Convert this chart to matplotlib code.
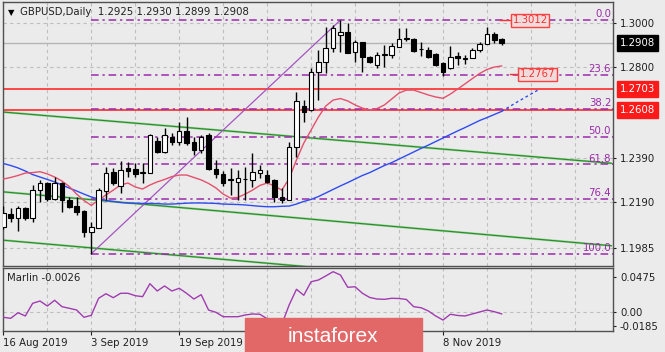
import numpy as np
import pandas as pd
import matplotlib
matplotlib.use("Agg")
import matplotlib.pyplot as plt
import matplotlib.transforms as mtransforms
from matplotlib.patches import Rectangle

plt.rcParams['font.family'] = 'DejaVu Sans'
plt.rcParams['font.size'] = 7.3

# daily bars GBPUSD, 16 Aug 2019 .. 20 Nov 2019
dates = pd.bdate_range('2019-08-16', '2019-11-20')

opens = [1.2080, 1.2137, 1.2118, 1.2166, 1.2118, 1.2245, 1.2278, 1.2203, 1.2276, 1.2200,
         1.2173, 1.2152, 1.2055, 1.2073, 1.2242, 1.2328, 1.2264, 1.2343, 1.2340, 1.2323,
         1.2323, 1.2468, 1.2418, 1.2486, 1.2463, 1.2513, 1.2463, 1.2426, 1.2494, 1.2340,
         1.2318, 1.2293, 1.2283, 1.2296, 1.2290, 1.2321, 1.2313, 1.2291, 1.2215, 1.2200,
         1.2440, 1.2624, 1.2606, 1.2776, 1.2821, 1.2884, 1.2945, 1.2957, 1.2869, 1.2912,
         1.2844, 1.2809, 1.2855, 1.2854, 1.2892, 1.2925, 1.2925, 1.2882, 1.2877, 1.2857,
         1.2820, 1.2794, 1.2850, 1.2838, 1.2842, 1.2877, 1.2903, 1.2948, 1.2925]
highs = [1.2173, 1.2164, 1.2173, 1.2170, 1.2268, 1.2290, 1.2283, 1.2305, 1.2283, 1.2215,
         1.2215, 1.2155, 1.2103, 1.2253, 1.2350, 1.2343, 1.2376, 1.2373, 1.2369, 1.2365,
         1.2497, 1.2486, 1.2524, 1.2501, 1.2553, 1.2576, 1.2486, 1.2494, 1.2503, 1.2381,
         1.2333, 1.2343, 1.2336, 1.2350, 1.2411, 1.2358, 1.2336, 1.2294, 1.2253, 1.2463,
         1.2689, 1.2651, 1.2794, 1.2877, 1.2982, 1.2990, 1.3012, 1.2997, 1.2922, 1.2912,
         1.2850, 1.2869, 1.2899, 1.2907, 1.2975, 1.2975, 1.2930, 1.2914, 1.2889, 1.2862,
         1.2824, 1.2895, 1.2869, 1.2854, 1.2884, 1.2914, 1.2982, 1.2958, 1.2930]
lows = [1.2069, 1.2103, 1.2062, 1.2110, 1.2103, 1.2193, 1.2196, 1.2200, 1.2147, 1.2163,
        1.2133, 1.2032, 1.1958, 1.2073, 1.2200, 1.2268, 1.2231, 1.2303, 1.2303, 1.2278,
        1.2320, 1.2411, 1.2411, 1.2448, 1.2448, 1.2448, 1.2403, 1.2411, 1.2336, 1.2298,
        1.2264, 1.2223, 1.2200, 1.2200, 1.2260, 1.2298, 1.2276, 1.2193, 1.2185, 1.2200,
        1.2396, 1.2553, 1.2602, 1.2651, 1.2772, 1.2869, 1.2869, 1.2862, 1.2824, 1.2779,
        1.2817, 1.2794, 1.2802, 1.2839, 1.2889, 1.2919, 1.2869, 1.2850, 1.2839, 1.2805,
        1.2760, 1.2790, 1.2809, 1.2814, 1.2839, 1.2869, 1.2903, 1.2907, 1.2899]
closes = [1.2140, 1.2118, 1.2163, 1.2118, 1.2245, 1.2278, 1.2203, 1.2278, 1.2200, 1.2167,
          1.2148, 1.2057, 1.2077, 1.2245, 1.2323, 1.2276, 1.2336, 1.2333, 1.2318, 1.2327,
          1.2494, 1.2418, 1.2494, 1.2463, 1.2513, 1.2456, 1.2426, 1.2486, 1.2340, 1.2318,
          1.2276, 1.2289, 1.2298, 1.2293, 1.2328, 1.2336, 1.2283, 1.2213, 1.2200, 1.2440,
          1.2648, 1.2599, 1.2779, 1.2824, 1.2884, 1.2975, 1.2957, 1.2862, 1.2912, 1.2844,
          1.2821, 1.2854, 1.2859, 1.2895, 1.2925, 1.2932, 1.2874, 1.2880, 1.2847, 1.2809,
          1.2776, 1.2847, 1.2839, 1.2840, 1.2877, 1.2903, 1.2948, 1.2922, 1.2908]

ma_fast = [1.2295, 1.2302, 1.2311, 1.2322, 1.2324, 1.2328, 1.2318, 1.2304, 1.2286, 1.2261,
           1.2227, 1.2198, 1.2176, 1.2200, 1.2223, 1.2245, 1.2268, 1.2277, 1.2259, 1.2250,
           1.2268, 1.2282, 1.2293, 1.2306, 1.2313, 1.2313, 1.2302, 1.2291, 1.2275, 1.2255,
           1.2227, 1.2209, 1.2212, 1.2227, 1.2245, 1.2266, 1.2277, 1.2264, 1.2245, 1.2297,
           1.2381, 1.2457, 1.2516, 1.2575, 1.2624, 1.2651, 1.2658, 1.2647, 1.2629, 1.2615,
           1.2606, 1.2613, 1.2629, 1.2656, 1.2683, 1.2696, 1.2696, 1.2685, 1.2674, 1.2665,
           1.2659, 1.2678, 1.2701, 1.2724, 1.2748, 1.2771, 1.2789, 1.2800, 1.2805]
ma_slow = [1.2365, 1.2356, 1.2345, 1.2331, 1.2315, 1.2304, 1.2293, 1.2282, 1.2268, 1.2254,
           1.2241, 1.2227, 1.2214, 1.2205, 1.2198, 1.2194, 1.2189, 1.2187, 1.2186, 1.2185,
           1.2185, 1.2184, 1.2182, 1.2182, 1.2184, 1.2186, 1.2187, 1.2187, 1.2186, 1.2185,
           1.2182, 1.2181, 1.2180, 1.2178, 1.2175, 1.2172, 1.2170, 1.2170, 1.2172, 1.2173,
           1.2182, 1.2194, 1.2203, 1.2216, 1.2232, 1.2248, 1.2264, 1.2279, 1.2295, 1.2311,
           1.2324, 1.2340, 1.2356, 1.2369, 1.2385, 1.2401, 1.2417, 1.2433, 1.2448, 1.2464,
           1.2480, 1.2496, 1.2512, 1.2527, 1.2543, 1.2559, 1.2572, 1.2586, 1.2600]
ma_slow_ext = [1.2600, 1.2620, 1.2640, 1.2659, 1.2678, 1.2697]

marlin = [-0.0072, -0.0086, -0.0010, -0.0054, 0.0118, 0.0149, 0.0081, 0.0159, 0.0072, 0.0050,
          0.0027, -0.0072, -0.0045, 0.0186, 0.0248, 0.0194, 0.0254, 0.0254, 0.0221, 0.0208,
          0.0384, 0.0285, 0.0353, 0.0285, 0.0322, 0.0254, 0.0176, 0.0235, 0.0027, -0.0004,
          -0.0064, -0.0064, -0.0064, -0.0041, -0.0027, -0.0031, -0.0091, -0.0150, -0.0170, 0.0095,
          0.0308, 0.0227, 0.0411, 0.0434, 0.0489, 0.0547, 0.0502, 0.0335, 0.0343, 0.0254,
          0.0197, 0.0176, 0.0172, 0.0186, 0.0183, 0.0170, 0.0072, 0.0058, 0.0014, -0.0054,
          -0.0109, -0.0031, -0.0047, -0.0054, -0.0027, 0.0000, 0.0027, 0.0004, -0.0026]

# trend channel lines: (bar index, price) end points
channel_x = [0, 83]
channel_upper = [1.2597, 1.2366]
channel_mid = [1.2237, 1.1994]
channel_low = [1.2019, 1.1780]

# fibonacci from 3 Sep low to 21 Oct high
fib_start, fib_end = 12, 46
fib_low, fib_high = 1.1958, 1.3012
fib_ratios = [0.0, 23.6, 38.2, 50.0, 61.8, 76.4, 100.0]

levels_red = [1.2703, 1.2608]
price_now = 1.2908
price_tags = [1.3012, 1.2767]

yticks_main = [1.3000, 1.2800, 1.2390, 1.2190, 1.1985]
yticks_ind = [0.0475, 0.0, -0.0185]
ytick_ind_labels = ['0.0475', '0.00', '-0.0185']

# date labels under the watermark are not visible in the source
date_label_idx = [0, 12, 24, 60]

W, H = 665, 352
bg = '#EBEBEB'
fig = plt.figure(figsize=(W / 100, H / 100), dpi=100, facecolor=bg)
ax = fig.add_axes([3 / W, 1 - 266 / H, 610 / W, 264 / H], facecolor=bg)
ax2 = fig.add_axes([3 / W, 1 - 331 / H, 610 / W, 63 / H], facecolor=bg)

xi = np.arange(len(closes))
o = np.array(opens); c = np.array(closes)
hi = np.array(highs); lo = np.array(lows)
xmax = 83.2

for a in (ax, ax2):
    a.set_xlim(-0.05, xmax)
    for s in a.spines.values():
        s.set_color('#505050')
        s.set_linewidth(1)
    for g in range(0, 84, 6):
        a.axvline(g, color='#BEBEBE', ls=(0, (3, 3)), lw=0.8, zorder=0)

ax.set_ylim(1.19027, 1.30934)
for yv in yticks_main:
    ax.axhline(yv, color='#BEBEBE', ls=(0, (3, 3)), lw=0.8, zorder=0)
ax.axhline(price_now, color='#B4B4B4', lw=1, zorder=1)

# channel
for yy in (channel_upper, channel_mid, channel_low):
    ax.plot(channel_x, yy, color='#9ACF9A', lw=1.6, zorder=1, solid_capstyle='butt')
    ax.plot(channel_x, yy, color='#248F24', lw=0.8, zorder=1)

# red levels
for lv in levels_red:
    ax.axhline(lv, color='#FF1A1A', lw=1.1, zorder=2)

# fibonacci
fib_col = '#9A2AAA'
ax.plot([fib_start, fib_end], [fib_low, fib_high], color='#A455C0', lw=0.9, zorder=2)
for r in fib_ratios:
    lv = fib_high - (fib_high - fib_low) * r / 100
    ax.plot([fib_start, xmax], [lv, lv], color=fib_col, lw=1.1,
            ls=(0, (5, 2.5, 1.5, 2.5)), zorder=2)
    ax.text(82.95, lv + 0.0004, f'{r:.1f}', color=fib_col, ha='right', va='bottom',
            fontsize=7.3, zorder=6)

# moving averages
ax.plot(xi, ma_slow, color='#2F4BF2', lw=1, zorder=3)
ax.plot(np.arange(len(ma_slow) - 1, len(ma_slow) - 1 + len(ma_slow_ext)), ma_slow_ext,
        color='#2F4BF2', lw=1, ls=(0, (2, 2)), zorder=3)
ax.plot(xi, ma_fast, color='#E5506C', lw=1, zorder=3)

# candles
up = c >= o
ax.vlines(xi, lo, hi, color='black', lw=1, zorder=4)
ax.bar(xi, np.maximum(np.abs(c - o), 0.00005), bottom=np.minimum(o, c), width=0.62,
       color=np.where(up, 'white', 'black'), edgecolor='black', lw=0.8, zorder=5)

# price tags with short leader lines
tag_pos = [(67.8, 69.4, 71.9), (69.1, 70.6, 72.9)]
for p, (x0, x1, xt) in zip(price_tags, tag_pos):
    ax.plot([x0, x1], [p, p], color='#FF3030', lw=1, zorder=6)
    ax.text(xt, p, f'{p:.4f}', color='#FF3030', ha='center', va='center', fontsize=7.3,
            zorder=7, bbox=dict(boxstyle='square,pad=0.15', fc='#EEDCDC', ec='#FF4040', lw=1))

# right axis
ax.yaxis.tick_right()
ax.set_yticks(yticks_main)
ax.set_yticklabels([f'{v:.4f}' for v in yticks_main])
ax.tick_params(axis='y', length=2.5, pad=2.5, colors='#202020', labelsize=7.3)
ax.tick_params(axis='x', bottom=False, labelbottom=False)

trans = mtransforms.blended_transform_factory(ax.transAxes, ax.transData)
ax.text(1.011, price_now, f'{price_now:.4f}', transform=trans, color='white', va='center',
        ha='left', fontsize=7.3, clip_on=False,
        bbox=dict(boxstyle='square,pad=0.3', fc='black', ec='black'))
for lv in levels_red:
    ax.text(1.011, lv, f'{lv:.4f}', transform=trans, color='white', va='center', ha='left',
            fontsize=7.3, clip_on=False,
            bbox=dict(boxstyle='square,pad=0.3', fc='#FF1A1A', ec='#FF1A1A'))

ax.text(0.008, 0.962, '\u25BC', transform=ax.transAxes, fontsize=6, va='center', ha='left')
ax.text(0.028, 0.962, 'GBPUSD,Daily  ' + ' '.join(f'{v:.4f}' for v in
        [opens[-1], highs[-1], lows[-1], closes[-1]]),
        transform=ax.transAxes, fontsize=7.3, va='center', ha='left', color='#202020')

# indicator
ax2.set_ylim(-0.0258, 0.0597)
ax2.axhline(0, color='#BEBEBE', ls=(0, (3, 3)), lw=0.8, zorder=0)
ax2.plot(xi, marlin, color='#A03CB0', lw=1, zorder=3)
ax2.yaxis.tick_right()
ax2.set_yticks(yticks_ind)
ax2.set_yticklabels(ytick_ind_labels)
ax2.tick_params(axis='y', length=2.5, pad=2.5, colors='#202020', labelsize=7.3)
ax2.text(0.006, 0.84, f'Marlin {marlin[-1]:.4f}', transform=ax2.transAxes, fontsize=7.3,
         va='center', ha='left', color='#202020')

tick_idx = list(range(0, len(dates), 12))
ax2.set_xticks(tick_idx)
ax2.set_xticklabels([f'{dates[i].day} {dates[i]:%b %Y}' if i in date_label_idx else ''
                     for i in tick_idx], ha='left')
ax2.tick_params(axis='x', length=3, pad=2, colors='#202020', labelsize=7.3)

# watermark
fig.add_artist(Rectangle((245 / W, 0), 177 / W, 34 / H, transform=fig.transFigure,
                         color='#E26868', zorder=10))
fig.text(333 / W, 16 / H, 'instaforex', color='white', fontsize=15, ha='center',
         va='center', family='Liberation Sans', zorder=11)

fig.savefig('out.png', dpi=100, facecolor=bg)
